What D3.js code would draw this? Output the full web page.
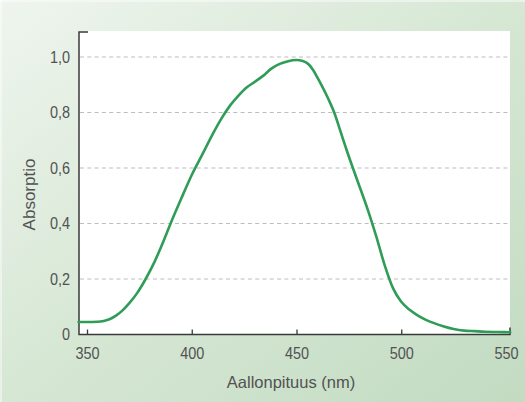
<!DOCTYPE html>
<html>
<head>
<meta charset="utf-8">
<script src="https://cdn.jsdelivr.net/npm/d3@7"></script>
<style>
  html, body { margin: 0; padding: 0; background: #ffffff; }
  svg { display: block; }
</style>
</head>
<body>
<svg id="chart" width="525" height="402"></svg>
<script>
// ---- data ----
const wavelengths = [346, 350, 355, 358, 361, 364, 367, 370, 374, 378, 382, 386, 390, 395, 400,
  405, 410, 414, 418, 422, 426, 430, 434, 438, 442, 446, 450, 453, 456, 458, 460, 462, 465,
  468, 471, 474, 477, 480, 484, 488, 492, 496, 500, 504, 508, 512, 516, 520, 525, 530, 535,
  540, 546, 552];
const absorbance = [0.045, 0.045, 0.046, 0.049, 0.056, 0.069, 0.087, 0.111, 0.150, 0.200, 0.258,
  0.327, 0.402, 0.490, 0.575, 0.648, 0.722, 0.776, 0.822, 0.858, 0.889, 0.910, 0.932, 0.958,
  0.975, 0.985, 0.989, 0.986, 0.972, 0.952, 0.926, 0.898, 0.852, 0.800, 0.732, 0.663, 0.598,
  0.535, 0.450, 0.355, 0.252, 0.168, 0.118, 0.089, 0.068, 0.052, 0.040, 0.030, 0.020, 0.014,
  0.012, 0.010, 0.009, 0.008];
const xTicks = [350, 400, 450, 500, 550];
const yTicks = [0, 0.2, 0.4, 0.6, 0.8, 1.0];
const yTickLabels = ["0", "0,2", "0,4", "0,6", "0,8", "1,0"];
const xTitle = "Aallonpituus (nm)";
const yTitle = "Absorptio";

(function () {
const svg = d3.select("#chart");
const W = 525, H = 402;

// background gradient
const defs = svg.append("defs");
const grad = defs.append("linearGradient").attr("id", "bg")
  .attr("x1", "0").attr("y1", "0").attr("x2", "1").attr("y2", "1");
grad.append("stop").attr("offset", "0%").attr("stop-color", "#eff5ee");
grad.append("stop").attr("offset", "50%").attr("stop-color", "#d6e7d4");
grad.append("stop").attr("offset", "100%").attr("stop-color", "#c2dbc1");
svg.append("rect").attr("x", 0).attr("y", 0).attr("width", W).attr("height", H).attr("fill", "url(#bg)");
svg.append("rect").attr("x", 0).attr("y", 0).attr("width", W).attr("height", 2).attr("fill", "#ffffff").attr("opacity", 0.45);
svg.append("rect").attr("x", 0).attr("y", 0).attr("width", 2).attr("height", H).attr("fill", "#ffffff").attr("opacity", 0.45);

// plot frame
const pL = 79, pR = 510, pT = 31, pB = 334.5;
svg.append("rect").attr("x", pL).attr("y", pT).attr("width", pR - pL).attr("height", pB - pT).attr("fill", "#ffffff");

const x = d3.scaleLinear().domain([350, 550]).range([87, 506]);
const y = d3.scaleLinear().domain([0, 1]).range([pB, 57]);

// gridlines
svg.append("g").selectAll("line").data(yTicks.filter(d => d > 0)).join("line")
  .attr("x1", pL + 1).attr("x2", 508)
  .attr("y1", d => y(d)).attr("y2", d => y(d))
  .attr("stroke", "#bdbdbd").attr("stroke-width", 1.2)
  .attr("stroke-dasharray", "4,3.3");

const tickFont = "'Liberation Sans', Arial, Helvetica, sans-serif";
const titleFont = "'Liberation Sans', Arial, Helvetica, sans-serif";
const textColor = "#525252";
const squeeze = 0.85;

// x axis
const xAxis = d3.axisBottom(x).tickValues(xTicks).tickFormat(d3.format("d"))
  .tickSizeInner(-5).tickSizeOuter(0).tickPadding(12);
const gx = svg.append("g").attr("transform", `translate(0,${pB})`).call(xAxis);
gx.select(".domain").remove();
gx.selectAll(".tick line").attr("stroke", "#3a3a3a").attr("stroke-width", 1.3)
  .attr("display", d => d === 550 ? "none" : null);
gx.selectAll(".tick text").attr("font-family", tickFont).attr("font-size", 17).attr("fill", textColor)
  .attr("transform", `scale(${squeeze},1)`);

// y axis
const yAxis = d3.axisLeft(y).tickValues(yTicks).tickFormat((d, i) => yTickLabels[i])
  .tickSize(0).tickPadding(9 / squeeze);
const gy = svg.append("g").attr("transform", `translate(${pL},0)`).call(yAxis);
gy.select(".domain").remove();
gy.selectAll(".tick text").attr("font-family", tickFont).attr("font-size", 17).attr("fill", textColor)
  .attr("transform", `scale(${squeeze},1)`);

// axis lines
svg.append("path")
  .attr("d", `M${pL + 9},${pT + 1} H${pL} V${pB} H${pR} V${pB - 7}`)
  .attr("fill", "none").attr("stroke", "#3a3a3a").attr("stroke-width", 1.5);

// curve
const pts = wavelengths.map((w, i) => [w, absorbance[i]]);
const line = d3.line().x(d => x(d[0])).y(d => y(d[1])).curve(d3.curveMonotoneX);
svg.append("path").datum(pts).attr("d", line)
  .attr("fill", "none").attr("stroke", "#2f9c58").attr("stroke-width", 2.6)
  .attr("stroke-linejoin", "round").attr("stroke-linecap", "round");

// titles
svg.append("text").attr("x", 291).attr("y", 388).attr("text-anchor", "middle")
  .attr("font-family", titleFont).attr("font-size", 16.5).attr("fill", textColor).text(xTitle);
svg.append("text").attr("transform", "translate(35,194.5) rotate(-90)").attr("text-anchor", "middle")
  .attr("font-family", titleFont).attr("font-size", 17).attr("fill", textColor).text(yTitle);
})();
</script>
</body>
</html>
